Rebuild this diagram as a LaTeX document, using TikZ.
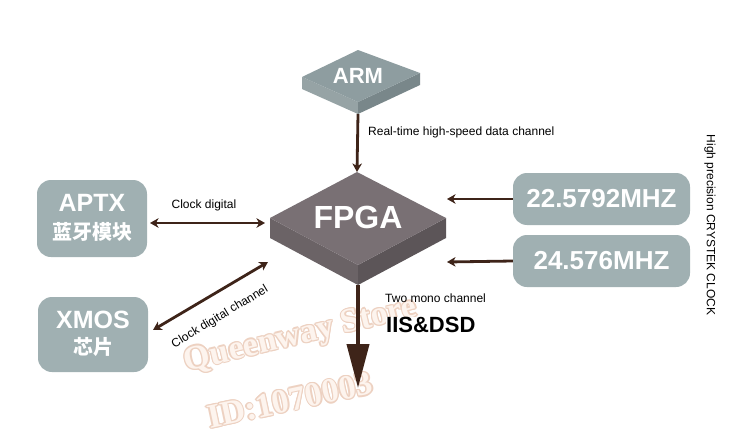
\documentclass[tikz,border=0pt]{standalone}
\usepackage{fontspec}
\setmainfont{Liberation Sans}
\newfontfamily\cjk{Noto Sans CJK SC}
\newfontfamily\wmfont{Liberation Serif}
\usetikzlibrary{arrows.meta,calc}
\definecolor{boxc}{RGB}{160,176,178}
\definecolor{armtop}{RGB}{142,157,160}
\definecolor{armleft}{RGB}{150,163,165}
\definecolor{armright}{RGB}{121,135,138}
\definecolor{fptop}{RGB}{121,112,116}
\definecolor{fpleft}{RGB}{107,99,102}
\definecolor{fpright}{RGB}{92,85,88}
\definecolor{arr}{RGB}{62,36,25}
\definecolor{wmfill}{RGB}{253,244,238}
\definecolor{wmedge}{RGB}{237,209,193}
\tikzset{
  mytip/.tip={Stealth[length=8.5pt,width=9.5pt,inset=2.5pt]},
  rbox/.style={fill=boxc, rounded corners=14pt, inner sep=0pt},
  wtxt/.style={text=white, inner sep=0pt, font=\bfseries\fontsize{#1}{#1}\selectfont},
  ctxt/.style={text=white, inner sep=0pt, font=\cjk\bfseries\fontsize{#1}{#1}\selectfont},
  conn/.style={draw=arr, line width=2.8pt},
  lbl/.style={text=black, inner sep=0pt, font=\fontsize{12}{14}\selectfont},
  wm/.style={inner sep=0pt, font=\wmfont\bfseries\fontsize{#1}{#1}\selectfont},
}
\begin{document}
\begin{tikzpicture}[x=1pt,y=-1pt]
\useasboundingbox[fill=white] (0,0) rectangle (750,447);

% watermark (behind everything)
\foreach \a [count=\i] in {0,45,...,315}{
  \node[wm=34, text=wmedge, rotate=13.5] (wq\i) at ($(301,336)+(\a:1.3)$) {Queenway Store};
  \node[wm=34, text=wmedge, rotate=12] (wi\i) at ($(290,400)+(\a:1.3)$) {ID:1070003};
}
\node[wm=34, text=wmfill, rotate=13.5] (wq) at (301,336) {Queenway Store};
\node[wm=34, text=wmfill, rotate=12] (wi) at (290,400) {ID:1070003};

% ARM slab
\coordinate (aT) at (358,50);
\coordinate (aL) at (302,77);
\coordinate (aB) at (358,102);
\coordinate (aR) at (420,73);
\coordinate (aLb) at (302,89);
\coordinate (aBb) at (358,114);
\coordinate (aRb) at (420,85);
\fill[armleft] (aL) -- (aB) -- (aBb) -- (aLb) -- cycle;
\fill[armright] (aB) -- (aR) -- (aRb) -- (aBb) -- cycle;
\fill[armtop] (aT) -- (aR) -- (aB) -- (aL) -- cycle;
\node[wtxt=22] (arm) at (358,76) {ARM};

% FPGA slab
\coordinate (fT) at (357,172);
\coordinate (fL) at (270,218);
\coordinate (fB) at (358,265);
\coordinate (fR) at (446,218);
\coordinate (fLb) at (270,238);
\coordinate (fBb) at (358,285);
\coordinate (fRb) at (446,238);
\fill[fpleft] (fL) -- (fB) -- (fBb) -- (fLb) -- cycle;
\fill[fpright] (fB) -- (fR) -- (fRb) -- (fBb) -- cycle;
\fill[fptop] (fT) -- (fR) -- (fB) -- (fL) -- cycle;
\node[wtxt=32] (fpga) at (358,217) {FPGA};

% left boxes
\node[rbox, minimum width=110pt, minimum height=77pt] (aptx) at (92,218.5) {};
\node[wtxt=25] (aptxa) at (92,203) {APTX};
\node[ctxt=20] (aptxb) at (92,232) {蓝牙模块};
\node[rbox, minimum width=110pt, minimum height=75pt] (xmos) at (93,334.5) {};
\node[wtxt=25] (xmosa) at (93,320) {XMOS};
\node[ctxt=20] (xmosb) at (93,347) {芯片};

% right boxes
\node[rbox, minimum width=177pt, minimum height=52pt] (c1) at (601.5,199) {};
\node[wtxt=26] (c1t) at (601.5,199) {22.5792MHZ};
\node[rbox, minimum width=177pt, minimum height=52pt] (c2) at (601.5,261) {};
\node[wtxt=26] (c2t) at (601.5,261) {24.576MHZ};

% connector end points
\coordinate (p1a) at (150,223);
\coordinate (p1b) at (265,223);
\coordinate (p2a) at (153,330);
\coordinate (p2b) at (268,262);
\coordinate (r1) at (447,199);
\coordinate (r2) at (447,262);
\coordinate (dn) at (358,388);

% connectors
\draw[conn, -{mytip}] (aBb) -- (fT);
\draw[conn, {mytip}-{mytip}] (p1a) -- (p1b);
\draw[conn, {mytip}-{mytip}] (p2a) -- (p2b);
\draw[conn, -{mytip}] (c1.west) -- (r1);
\draw[conn, -{mytip}] (c2.west) -- (r2);
\draw[draw=arr, line width=4pt, -{Triangle[length=44pt,width=22pt]}] (fBb) -- (dn);

% labels
\node[lbl, anchor=west] (l1) at (368,132) {Real-time high-speed data channel};
\node[lbl] (l2) at (204,205) {Clock digital};
\node[lbl, rotate=31] (l3) at (220,317) {Clock digital channel};
\node[lbl, anchor=west] (l4) at (385,298) {Two mono channel};
\node[fill=white, inner sep=0pt, anchor=west, font=\bfseries\fontsize{22}{22}\selectfont] (l5) at (386,325) {IIS\&DSD};
\node[lbl, rotate=-90] (l6) at (710,225) {High precision CRYSTEK CLOCK};
\end{tikzpicture}
\end{document}
